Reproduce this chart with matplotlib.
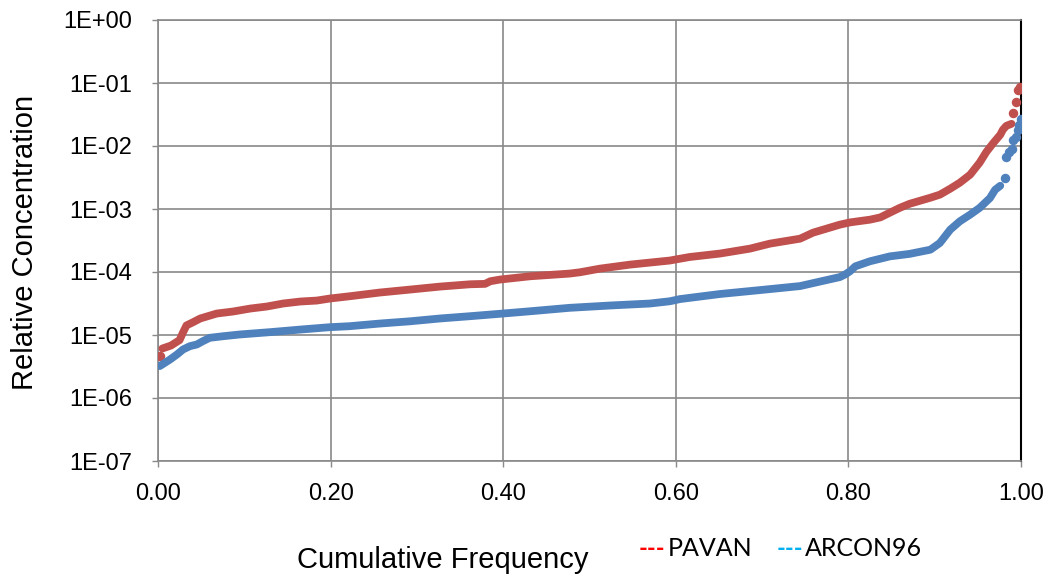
import matplotlib
matplotlib.use("Agg")
import matplotlib.pyplot as plt
from matplotlib.ticker import FixedLocator, FuncFormatter
import numpy as np

# ---- data ----
pavan_freq = [0.005, 0.015, 0.025, 0.029, 0.033, 0.040, 0.049, 0.068, 0.087, 0.107,
              0.126, 0.145, 0.165, 0.184, 0.199, 0.222, 0.257, 0.292, 0.327, 0.362,
              0.379, 0.385, 0.396, 0.431, 0.477, 0.489, 0.512, 0.547, 0.593, 0.616,
              0.651, 0.686, 0.709, 0.744, 0.759, 0.790, 0.802, 0.825, 0.837, 0.848,
              0.860, 0.871, 0.895, 0.906, 0.918, 0.929, 0.941, 0.952, 0.960, 0.968,
              0.976, 0.979, 0.983, 0.989]
pavan_conc = [6.1e-6, 6.8e-6, 8.3e-6, 1.10e-5, 1.42e-5, 1.58e-5, 1.83e-5, 2.19e-5, 2.36e-5, 2.63e-5,
              2.83e-5, 3.16e-5, 3.40e-5, 3.52e-5, 3.79e-5, 4.12e-5, 4.72e-5, 5.26e-5, 5.87e-5, 6.39e-5,
              6.48e-5, 7.13e-5, 7.58e-5, 8.55e-5, 9.44e-5, 9.9e-5, 1.13e-4, 1.31e-4, 1.52e-4, 1.73e-4,
              1.96e-4, 2.35e-4, 2.82e-4, 3.38e-4, 4.21e-4, 5.64e-4, 6.13e-4, 6.77e-4, 7.36e-4, 8.74e-4,
              1.05e-3, 1.21e-3, 1.51e-3, 1.69e-3, 2.10e-3, 2.61e-3, 3.50e-3, 5.42e-3, 8.1e-3, 1.12e-2,
              1.51e-2, 1.81e-2, 2.09e-2, 2.25e-2]
pavan_sep_freq = [0.002, 0.991, 0.994, 0.997, 0.999]
pavan_sep_conc = [4.56e-6, 3.40e-2, 5.07e-2, 7.78e-2, 8.77e-2]

arcon_freq = [0.002, 0.008, 0.014, 0.022, 0.029, 0.037, 0.045, 0.052, 0.060, 0.076,
              0.095, 0.130, 0.165, 0.199, 0.222, 0.257, 0.292, 0.327, 0.362, 0.396,
              0.431, 0.477, 0.524, 0.570, 0.593, 0.605, 0.651, 0.698, 0.744, 0.767,
              0.790, 0.796, 0.802, 0.808, 0.825, 0.848, 0.871, 0.895, 0.906, 0.918,
              0.929, 0.941, 0.952, 0.964, 0.970, 0.976]
arcon_conc = [3.21e-6, 3.62e-6, 4.09e-6, 4.91e-6, 5.89e-6, 6.65e-6, 7.07e-6, 7.98e-6, 9.03e-6, 9.58e-6,
              1.02e-5, 1.11e-5, 1.22e-5, 1.33e-5, 1.38e-5, 1.52e-5, 1.65e-5, 1.83e-5, 1.99e-5, 2.17e-5,
              2.38e-5, 2.70e-5, 2.94e-5, 3.16e-5, 3.43e-5, 3.72e-5, 4.47e-5, 5.17e-5, 5.98e-5, 7.05e-5,
              8.30e-5, 9.10e-5, 1.03e-4, 1.23e-4, 1.48e-4, 1.77e-4, 1.94e-4, 2.26e-4, 2.89e-4, 4.70e-4,
              6.36e-4, 8.13e-4, 1.04e-3, 1.49e-3, 2.02e-3, 2.34e-3]
arcon_sep_freq = [0.982, 0.983, 0.986, 0.989, 0.991, 0.994, 0.996, 0.998, 1.000]
arcon_sep_conc = [3.10e-3, 6.74e-3, 8.09e-3, 9.03e-3, 1.25e-2, 1.40e-2, 1.81e-2, 2.17e-2, 2.70e-2]

x_ticks = [0.0, 0.2, 0.4, 0.6, 0.8, 1.0]
y_ticks = [1e-7, 1e-6, 1e-5, 1e-4, 1e-3, 1e-2, 1e-1, 1e0]

red = "#C0504D"
blue = "#4F81BD"
grid_c = "#898989"

W, H = 1054, 580
fig = plt.figure(figsize=(W / 100, H / 100), dpi=100)
ax = fig.add_axes([158 / W, 1 - 461 / H, (1021 - 158) / W, (461 - 20) / H])

ax.set_yscale("log")
ax.set_xlim(0, 1)
ax.set_ylim(1e-7, 1)

ax.plot(pavan_freq, pavan_conc, color=red, lw=5.6, solid_capstyle="round",
        solid_joinstyle="round", zorder=3)
ax.plot(pavan_sep_freq, pavan_sep_conc, ls="none", marker="o", ms=5.8,
        mfc=red, mec=red, zorder=3)
ax.plot(arcon_freq, arcon_conc, color=blue, lw=5.6, solid_capstyle="round",
        solid_joinstyle="round", zorder=3)
ax.plot(arcon_sep_freq, arcon_sep_conc, ls="none", marker="o", ms=5.8,
        mfc=blue, mec=blue, zorder=3)

ax.xaxis.set_major_locator(FixedLocator(x_ticks))
ax.yaxis.set_major_locator(FixedLocator(y_ticks))
ax.yaxis.set_minor_locator(FixedLocator([]))
ax.xaxis.set_major_formatter(FuncFormatter(lambda v, p: f"{v:.2f}"))
ax.yaxis.set_major_formatter(FuncFormatter(lambda v, p: f"1E{int(round(np.log10(v))):+03d}"))

ax.grid(True, which="major", color=grid_c, lw=1.2, zorder=0)
ax.set_axisbelow(True)
for s in ["left", "bottom", "top"]:
    ax.spines[s].set_color(grid_c)
    ax.spines[s].set_linewidth(1.2)
ax.spines["right"].set_color("black")
ax.spines["right"].set_linewidth(1.5)

ax.tick_params(axis="both", which="major", direction="out", length=4.5,
               color=grid_c, width=1.0, labelsize=17, labelcolor="black")
ax.tick_params(axis="y", pad=14)
ax.tick_params(axis="x", pad=11)
for lab in ax.get_xticklabels() + ax.get_yticklabels():
    lab.set_fontfamily("Liberation Sans")

fig.text(25 / W, 1 - 242 / H, "Relative Concentration", rotation=90,
         ha="center", va="center", fontsize=21, family="Liberation Sans")
fig.text(443 / W, 1 - 560 / H, "Cumulative Frequency", ha="center",
         va="center", fontsize=21, family="Liberation Sans")

fig.text(639 / W, 1 - 549 / H, "---", color="#FF0000", ha="left", va="center",
         fontsize=17, fontweight="bold", family="Lato")
fig.text(668 / W, 1 - 549 / H, "PAVAN", color="black", ha="left", va="center",
         fontsize=18, family="Lato")
fig.text(777 / W, 1 - 549 / H, "---", color="#00B0F0", ha="left", va="center",
         fontsize=17, fontweight="bold", family="Lato")
fig.text(805 / W, 1 - 549 / H, "ARCON96", color="black", ha="left", va="center",
         fontsize=18, family="Lato")

fig.savefig("out.png", dpi=100)
